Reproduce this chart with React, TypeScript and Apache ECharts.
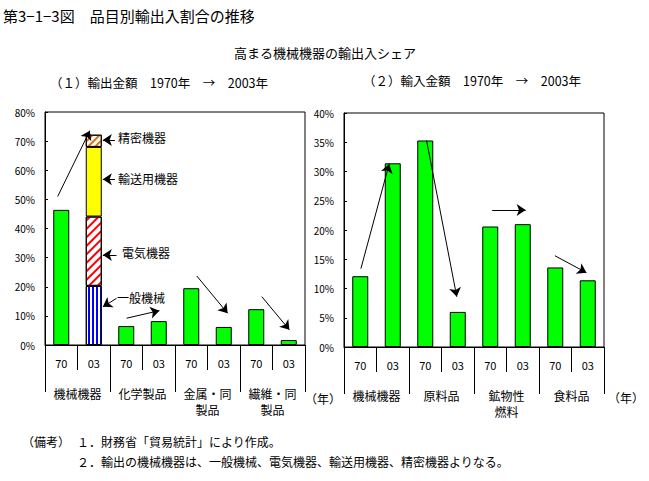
import React, { useEffect, useRef } from "react";
import * as echarts from "echarts";

const yearLabels = ["70", "03", "70", "03", "70", "03", "70", "03"];
const exportGroups = ["機械機器", "化学製品", "金属・同\n製品", "繊維・同\n製品"];
const importGroups = ["機械機器", "原料品", "鉱物性\n燃料", "食料品"];

// export shares (%), 1970 / 2003 per group; machinery 2003 split into parts
const exportValues = [46.4, "-", 6.5, 8.2, 19.5, 6.2, 12.3, 1.7];
const exportMachParts = [
  { name: "一般機械", value: 20.3 },
  { name: "電気機器", value: 23.8 },
  { name: "輸送用機器", value: 23.9 },
  { name: "精密機器", value: 4.2 },
];
const importValues = [12.1, 31.4, 35.3, 6.0, 20.6, 21.0, 13.6, 11.4];

const leftYTicks = { min: 0, max: 80, interval: 10 };
const rightYTicks = { min: 0, max: 40, interval: 5 };

// trend arrows: [x1, y1, x2, y2] in (category-slot units, %)
const exportArrows = [
  [0.39, 51.0, 1.38, 73.6],
  [2.15, 70.4, 1.78, 70.4],
  [2.15, 56.9, 1.78, 56.9],
  [2.2, 30.9, 1.78, 30.9],
  [2.2, 16.0, 1.78, 13.1],
  [2.51, 9.2, 3.52, 11.8],
  [4.67, 23.7, 5.62, 10.9],
  [6.67, 16.6, 7.52, 5.2],
];
const importArrows = [
  [0.52, 13.4, 1.39, 31.3],
  [2.54, 35.3, 3.47, 8.6],
  [4.56, 23.4, 5.59, 23.4],
  [6.49, 15.6, 7.46, 12.7],
];

const FONT = "'Noto Sans CJK JP', 'Noto Sans', sans-serif";

export default function App() {
  const ref = useRef<HTMLDivElement>(null);
  useEffect(() => {
    if (!ref.current) return;
    const chart = echarts.init(ref.current, null, { renderer: "svg" });

    const partStyles: any[] = [
      {
        color: "#ffffff",
        borderColor: "#000",
        borderWidth: 1,
        decal: { symbol: "rect", symbolSize: 1, dashArrayX: [2, 2], dashArrayY: [4, 0], color: "#0000ff" },
      },
      {
        color: "#ffffff",
        borderColor: "#000",
        borderWidth: 1,
        decal: { symbol: "rect", symbolSize: 1, dashArrayX: [4, 0], dashArrayY: [2, 4], rotation: -Math.PI / 4, color: "#ff0000" },
      },
      { color: "#ffff00", borderColor: "#000", borderWidth: 1 },
      {
        color: "#ffffff",
        borderColor: "#000",
        borderWidth: 1,
        decal: { symbol: "rect", symbolSize: 1, dashArrayX: [4, 0], dashArrayY: [2, 3], rotation: -Math.PI / 4, color: "#e46c0a" },
      },
    ];

    const catAxis = (gridIndex: number) => ({
      type: "category",
      gridIndex,
      data: yearLabels,
      position: "bottom",
      axisLine: { lineStyle: { color: "#000", width: 1 } },
      axisTick: { show: true, length: 25, alignWithLabel: false, lineStyle: { color: "#000" } },
      axisLabel: { margin: 12, fontSize: 11, color: "#000", fontFamily: FONT },
    });
    const groupAxis = (gridIndex: number, data: string[]) => ({
      type: "category",
      gridIndex,
      data,
      position: "bottom",
      axisLine: { show: false },
      axisTick: { show: true, length: 47, lineStyle: { color: "#000" } },
      axisLabel: { margin: 40, fontSize: 12, lineHeight: 16, color: "#000", fontFamily: FONT, interval: 0 },
    });
    const hiddenAxis = (gridIndex: number) => ({
      type: "value",
      gridIndex,
      min: 0,
      max: 8,
      show: false,
    });
    const yAxis = (gridIndex: number, t: any) => ({
      type: "value",
      gridIndex,
      min: t.min,
      max: t.max,
      interval: t.interval,
      splitLine: { show: false },
      axisLine: { show: true, lineStyle: { color: "#000" } },
      axisTick: { show: true, inside: true, length: 3, lineStyle: { color: "#000" } },
      axisLabel: { formatter: "{value}%", fontSize: 10, color: "#000", margin: 10, fontFamily: FONT },
    });

    const arrowSeries = (xAxisIndex: number, yAxisIndex: number, arrows: number[][]) => ({
      type: "lines",
      coordinateSystem: "cartesian2d",
      xAxisIndex,
      yAxisIndex,
      symbol: ["none", "arrow"],
      symbolSize: 9,
      lineStyle: { color: "#000", width: 1, opacity: 1 },
      z: 10,
      data: arrows.map((a) => ({ coords: [[a[0], a[1]], [a[2], a[3]]] })),
    });

    const text = (x: number, y: number, t: string, fontSize: number, align = "left") => ({
      type: "text",
      x,
      y,
      style: { text: t, fontSize, fill: "#000", fontFamily: FONT, align, verticalAlign: "middle" },
    });

    chart.setOption({
      animation: false,
      backgroundColor: "#fff",
      grid: [
        { left: 45, top: 112, width: 260, height: 233, show: true, borderColor: "#000", borderWidth: 1, backgroundColor: "transparent" },
        { left: 344, top: 113, width: 260, height: 234, show: true, borderColor: "#000", borderWidth: 1, backgroundColor: "transparent" },
      ],
      xAxis: [
        catAxis(0),
        groupAxis(0, exportGroups),
        hiddenAxis(0),
        catAxis(1),
        groupAxis(1, importGroups),
        hiddenAxis(1),
      ],
      yAxis: [yAxis(0, leftYTicks), yAxis(1, rightYTicks)],
      series: [
        {
          type: "bar",
          xAxisIndex: 0,
          yAxisIndex: 0,
          data: exportValues,
          barWidth: 16,
          barGap: "-100%",
          itemStyle: { color: "#00ff00", borderColor: "#000", borderWidth: 1 },
        },
        ...exportMachParts.map((p, i) => ({
          type: "bar",
          name: p.name,
          xAxisIndex: 0,
          yAxisIndex: 0,
          stack: "mach",
          barWidth: 16,
          barGap: "-100%",
          data: yearLabels.map((_, k) => (k === 1 ? p.value : "-")),
          itemStyle: partStyles[i],
        })),
        {
          type: "bar",
          xAxisIndex: 3,
          yAxisIndex: 1,
          data: importValues,
          barWidth: 16,
          itemStyle: { color: "#00ff00", borderColor: "#000", borderWidth: 1 },
        },
        arrowSeries(2, 0, exportArrows),
        arrowSeries(5, 1, importArrows),
      ],
      graphic: [
        text(3, 15, "第3−1−3図　品目別輸出入割合の推移", 15),
        text(325, 52, "高まる機械機器の輸出入シェア", 13, "center"),
        text(50, 82, "（１）輸出金額　1970年　→　2003年", 12.5),
        text(363, 80, "（２）輸入金額　1970年　→　2003年", 12.5),
        text(118, 137, "精密機器", 12),
        text(118, 178, "輸送用機器", 12),
        text(122, 252, "電気機器", 12),
        text(117, 297, "一般機械", 12),
        text(305, 398, "（年）", 12),
        text(608, 397, "（年）", 12),
        text(22, 441, "（備考）", 12),
        text(77, 441, "１．財務省「貿易統計」により作成。", 12),
        text(77, 461, "２．輸出の機械機器は、一般機械、電気機器、輸送用機器、精密機器よりなる。", 12),
      ],
    });
    return () => chart.dispose();
  }, []);
  return (
    <div
      ref={ref}
      style={{ position: "absolute", left: 0, top: 0, width: 649, height: 481 }}
    />
  );
}
